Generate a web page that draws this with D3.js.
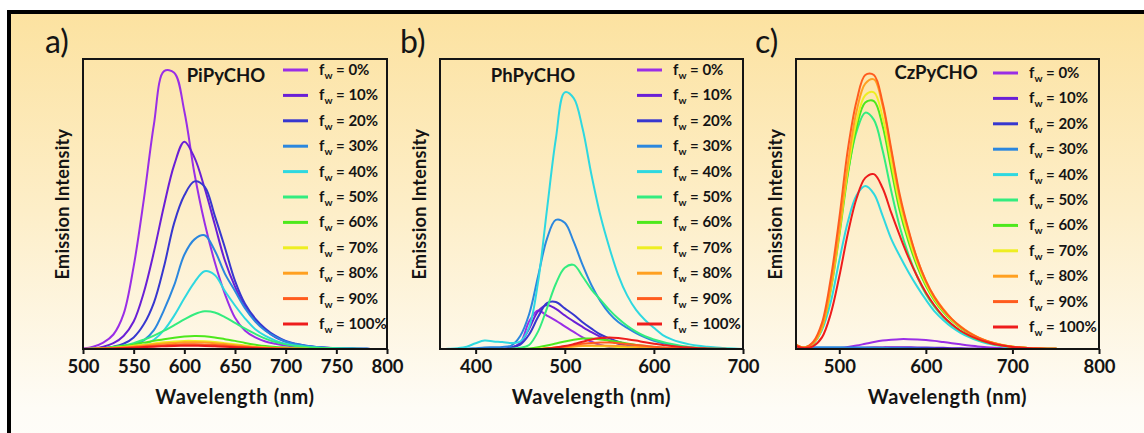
<!DOCTYPE html>
<html>
<head>
<meta charset="utf-8">
<script src="https://cdn.jsdelivr.net/npm/d3@7"></script>
<style>
  html, body { margin: 0; padding: 0; background: #ffffff; }
  svg { display: block; font-family: Lato, "Open Sans", "Noto Sans", sans-serif; }
</style>
</head>
<body>
<svg id="chart" width="1144" height="433"></svg>
<script>
// Water fractions (f_w) shown in every legend, and the colour used for each
const fwLevels = ["0%", "10%", "20%", "30%", "40%", "50%", "60%", "70%", "80%", "90%", "100%"];
const fwColors = ["#9a2ee6", "#6a1fd6", "#3737cf", "#2b87de", "#2ed8e0", "#33ec7f",
                  "#4de81c", "#eeee22", "#ffa020", "#ff5c1e", "#ee1c1c"];

// Compound names
const compounds = ["PiPyCHO", "PhPyCHO", "CzPyCHO"];

// Wavelength sampling (nm) for each spectrum set
const waveA = [500,510,520,530,540,550,560,570,580,590,600,610,620,630,640,650,660,670,680,690,700,710,720,730,740,750,760,770,780,790,800];
const waveB = [360,370,380,390,400,410,420,430,440,450,460,470,480,490,500,510,520,530,540,550,560,570,580,590,600,610,620,630,640,650,660,670,680,690,700];
const waveC = [450,460,470,480,490,500,510,520,530,540,550,560,570,580,590,600,610,620,630,640,650,660,670,680,690,700,710,720,730,740,750,760,770,780,790,800];

// Axis tick values (nm)
const ticksA = [500, 550, 600, 650, 700, 750, 800];
const ticksB = [400, 500, 600, 700];
const ticksC = [500, 600, 700, 800];

// Emission intensity (a.u.), one row per water fraction, sampled on waveA
const pipychoIntensity = [
  [0.2,0.8,2.2,5.0,12.0,28.5,51.5,77.5,95.8,95.3,82,60.5,43.5,30,19,10.8,6.3,4.0,2.6,1.8,1.2,0.8,0.5,0.35,0.25,0.15,0.1,0.05,0,0,0],
  [0,0.2,0.8,2.0,4.5,9.5,19.5,33.5,49.5,63.5,71.5,66,55.5,43,30.5,21.5,14.5,9.8,6.5,4.0,2.5,1.5,1.0,0.6,0.4,0.3,0.2,0.1,0.05,0,0],
  [0,0.1,0.3,0.8,1.8,4.0,8.5,16,28.5,43.5,53,57.8,56,46,35,23.5,15.5,10.5,7,4.5,2.8,1.8,1.1,0.7,0.45,0.3,0.2,0.1,0.05,0,0],
  [0,0,0.1,0.3,0.7,1.5,3.0,6.5,13.5,22,32.5,37.8,39.2,34,26,20,14,9.5,6.3,4.2,2.6,1.7,1.1,0.7,0.45,0.3,0.2,0.1,0.05,0,0],
  [0,0,0.1,0.2,0.4,0.8,1.5,3.2,6.5,11.5,17.5,23,26.8,25.5,20,15,10.5,6.8,4.5,2.9,1.8,1.2,0.8,0.5,0.35,0.25,0.15,0.1,0.05,0,0],
  [0,0.1,0.3,0.7,1.2,2.0,3.2,4.6,6.3,8.2,10.2,12.0,13.0,12.6,11,9,7,5.2,3.6,2.4,1.6,1.0,0.7,0.45,0.3,0.2,0.1,0.05,0,0,0],
  [0,0.1,0.3,0.6,1.0,1.5,2.2,2.8,3.4,3.9,4.3,4.5,4.4,4.0,3.4,2.8,2.1,1.5,1.0,0.7,0.5,0.3,0.2,0.1,0.05,0,0,0,0,0,0],
  [0,0.1,0.2,0.4,0.7,1.1,1.5,1.9,2.3,2.6,2.8,2.8,2.7,2.4,2.0,1.6,1.2,0.8,0.5,0.35,0.2,0.1,0.05,0,0,0,0,0,0,0,0],
  [0,0.1,0.2,0.35,0.6,0.9,1.2,1.6,1.9,2.1,2.3,2.3,2.2,2.0,1.7,1.3,1.0,0.7,0.45,0.3,0.2,0.1,0.05,0,0,0,0,0,0,0,0],
  [0,0,0.1,0.2,0.4,0.6,0.85,1.1,1.3,1.5,1.6,1.6,1.5,1.4,1.2,0.9,0.7,0.5,0.3,0.2,0.1,0.05,0,0,0,0,0,0,0,0,0],
  [0,0,0.1,0.15,0.3,0.45,0.65,0.8,0.95,1.05,1.1,1.1,1.05,0.95,0.8,0.6,0.45,0.3,0.2,0.1,0.05,0,0,0,0,0,0,0,0,0,0]
];

// Emission intensity (a.u.), sampled on waveB
const phpychoIntensity = [
  [0,0,0,0,0,0,0,0,0.5,2.0,9.5,13.3,11.5,9.8,7.8,5.9,4.0,2.5,1.4,0.7,0.3,0.1,0,0,0,0,0,0,0,0,0,0,0,0,0],
  [0,0,0,0,0,0,0,0,0.5,2,7,13,15.2,13.8,11.6,9.5,7.6,5.8,4.2,2.8,1.8,1.1,0.6,0.3,0.15,0.05,0,0,0,0,0,0,0,0,0],
  [0,0,0,0,0,0,0,0,0.5,1.5,5,11,15.8,16.2,14,11.8,9.2,7,5.0,3.7,2.5,1.6,0.9,0.5,0.3,0.15,0.05,0,0,0,0,0,0,0,0],
  [0,0,0,0.1,0.3,0.5,0.6,0.7,1.2,4.5,12,25,38,44.5,43.5,37,29,22,16.5,12.3,9.3,7.3,5.5,4.0,2.8,2.0,1.3,0.8,0.5,0.3,0.2,0.1,0,0,0],
  [0,0.1,0.3,0.8,2.0,2.9,2.6,2.4,2.1,2.6,7.5,23,48,72.5,88.5,86.5,76,60,46,35,25.5,18.5,13.5,10,7.3,4.8,3.3,2.3,1.6,1.1,0.8,0.5,0.3,0.15,0],
  [0,0,0,0,0,0,0,0,0.1,0.4,1.4,6,14,22.5,28,29,25,20.5,17,13.5,10.5,8,6.0,4.4,3.3,2.4,1.7,1.1,0.7,0.4,0.25,0.15,0.05,0,0],
  [0,0,0,0,0,0,0,0,0,0,0.2,0.6,1.2,1.9,2.6,3.2,3.6,3.6,3.3,2.9,2.4,1.9,1.4,1.0,0.7,0.45,0.25,0.1,0.05,0,0,0,0,0,0],
  [0,0,0,0,0,0,0,0,0,0,0,0.1,0.3,0.5,0.7,0.9,1.0,1.0,0.95,0.85,0.7,0.55,0.4,0.3,0.2,0.1,0.05,0,0,0,0,0,0,0,0],
  [0,0,0,0,0,0,0,0,0,0,0,0,0.1,0.3,0.6,0.9,1.1,1.2,1.2,1.15,1.05,0.9,0.75,0.6,0.45,0.3,0.2,0.1,0.05,0,0,0,0,0,0],
  [0,0,0,0,0,0,0,0,0,0,0,0,0.2,0.5,0.9,1.4,1.8,2.1,2.2,2.2,2.0,1.7,1.4,1.1,0.8,0.55,0.35,0.2,0.1,0.05,0,0,0,0,0],
  [0,0,0,0,0,0,0,0,0,0,0,0,0.2,0.5,1.0,1.7,2.5,3.3,3.8,4.0,3.8,3.4,2.9,2.3,1.8,1.4,1.0,0.7,0.5,0.3,0.2,0.1,0.05,0,0]
];

// Emission intensity (a.u.), sampled on waveC
const czpychoIntensity = [
  [0,0,0,0,0.1,0.3,0.7,1.2,1.8,2.4,2.9,3.2,3.4,3.4,3.3,3.1,2.8,2.4,2.0,1.6,1.2,0.9,0.6,0.4,0.25,0.15,0.1,0.05,0,0,0,0,0,0,0,0],
  [0,0,0,0,0,0.1,0.2,0.3,0.4,0.5,0.55,0.6,0.6,0.6,0.55,0.5,0.45,0.4,0.3,0.25,0.2,0.15,0.1,0.05,0,0,0,0,0,0,0,0,0,0,0,0],
  [0.2,0.2,0.2,0.25,0.3,0.35,0.4,0.4,0.4,0.4,0.4,0.35,0.35,0.3,0.3,0.25,0.2,0.15,0.1,0.05,0,0,0,0,0,0,0,0,0,0,0,0,0,0,0,0],
  [0.8,0.6,0.6,0.6,0.6,0.6,0.55,0.5,0.45,0.4,0.35,0.3,0.25,0.2,0.15,0.1,0.05,0,0,0,0,0,0,0,0,0,0,0,0,0,0,0,0,0,0,0],
  [0.8,0.3,1.8,6.5,16,30.5,44,53,56.2,53.5,46,38,32,26.5,21.5,17,13,10,7.5,5.6,4.1,2.9,2.0,1.4,0.85,0.55,0.35,0.2,0.1,0.05,0,0,0,0,0,0],
  [1.3,0.5,2.2,8,21.5,41,61,75,81.5,79,68.5,54.5,42,32.5,25,19,14.5,11,8.3,6.2,4.5,3.2,2.3,1.5,1.0,0.6,0.4,0.25,0.15,0.1,0.05,0,0,0,0,0],
  [1.3,0.5,2.0,7.2,20,39,60.5,76.5,85,85.5,77,62,47.5,37,28.5,21.8,16.7,12.8,9.7,7.3,5.3,3.8,2.7,1.8,1.2,0.8,0.5,0.3,0.2,0.1,0.05,0,0,0,0,0],
  [1.3,0.5,2.0,7.3,20.5,40,62,78.5,87.5,88.5,80,64.5,49.5,38.5,29.5,22.5,17.2,13.2,10,7.5,5.5,3.9,2.8,1.9,1.2,0.8,0.5,0.3,0.2,0.1,0.05,0,0,0,0,0],
  [1.4,0.5,2.0,7.5,21,41,64,82,91.5,93,84,68,52,40.5,31,23.5,18,13.8,10.4,7.8,5.7,4.1,2.9,2.0,1.3,0.8,0.5,0.3,0.2,0.1,0.05,0,0,0,0,0],
  [1.4,0.5,2.5,9,24,45,69,85.5,94.5,94.5,85,69,53,41,31,23.5,17.8,13.6,10.3,7.7,5.6,4.0,2.8,1.9,1.2,0.8,0.5,0.3,0.2,0.1,0.05,0,0,0,0,0],
  [1.0,0.3,1.0,4,12,25,40,52,59,60.3,55.5,47,39,31.5,25,19.5,15,11.3,8.5,6.3,4.7,3.4,2.4,1.6,1.1,0.7,0.45,0.25,0.15,0.1,0.05,0,0,0,0,0]
];

// ---------------------------------------------------------------------------
// Layout of the three panels
const plotTop = 59, plotBottom = 349;
const panels = [
  { letter: "a)", name: compounds[0], wave: waveA, data: pipychoIntensity, domain: [500, 800], ticks: ticksA,
    left: 83, right: 387, titleDX: 143, titleY: 82, legendDX: 200, legendY: 70, letterDX: -38 },
  { letter: "b)", name: compounds[1], wave: waveB, data: phpychoIntensity, domain: [360, 700], ticks: ticksB,
    left: 440, right: 743, titleDX: 93, titleY: 82, legendDX: 197, legendY: 70, letterDX: -40 },
  { letter: "c)", name: compounds[2], wave: waveC, data: czpychoIntensity, domain: [450, 800], ticks: ticksC,
    left: 796, right: 1099, titleDX: 140, titleY: 79, legendDX: 197, legendY: 73, letterDX: -41 }
];

const svg = d3.select("#chart");
const defs = svg.append("defs");

// Warm vertical background wash inside the black frame
const grad = defs.append("linearGradient")
  .attr("id", "bgWash").attr("x1", 0).attr("y1", 0).attr("x2", 0).attr("y2", 1);
grad.append("stop").attr("offset", "0%").attr("stop-color", "#fce2a0");
grad.append("stop").attr("offset", "45%").attr("stop-color", "#fdeec8");
grad.append("stop").attr("offset", "90%").attr("stop-color", "#fefcf6");
grad.append("stop").attr("offset", "100%").attr("stop-color", "#fefdf9");

svg.append("rect")
  .attr("x", 9).attr("y", 12)
  .attr("width", 1160).attr("height", 440)
  .attr("fill", "url(#bgWash)")
  .attr("stroke", "#000").attr("stroke-width", 4);

const ink = "#141414";

panels.forEach((p, pi) => {
  const x = d3.scaleLinear().domain(p.domain).range([p.left, p.right]);
  const y = d3.scaleLinear().domain([0, 100]).range([plotBottom, plotTop]);
  const g = svg.append("g");

  const clipId = "clip" + pi;
  defs.append("clipPath").attr("id", clipId)
    .append("rect")
    .attr("x", p.left).attr("y", plotTop)
    .attr("width", p.right - p.left).attr("height", plotBottom - plotTop - 1);

  // spectra
  const line = d3.line()
    .x((d, i) => x(p.wave[i]))
    .y(d => y(d))
    .curve(d3.curveCatmullRom.alpha(0.5));

  g.append("g").attr("clip-path", `url(#${clipId})`)
    .selectAll("path")
    .data(p.data)
    .join("path")
    .attr("d", d => line(d))
    .attr("fill", "none")
    .attr("stroke", (d, i) => fwColors[i])
    .attr("stroke-width", 2)
    .attr("stroke-linejoin", "round");

  // bottom axis
  const axis = d3.axisBottom(x)
    .tickValues(p.ticks)
    .tickFormat(d3.format("d"))
    .tickSize(5)
    .tickSizeOuter(0)
    .tickPadding(6);
  const ax = g.append("g")
    .attr("transform", `translate(0,${plotBottom})`)
    .call(axis);
  ax.select(".domain").remove();
  ax.selectAll(".tick line").attr("stroke", ink).attr("stroke-width", 2);
  ax.selectAll(".tick text")
    .attr("fill", ink)
    .style("font-size", "18.5px")
    .style("font-weight", "700")
    .style("font-family", "Lato, 'Open Sans', sans-serif");

  // plot frame
  g.append("rect")
    .attr("x", p.left).attr("y", plotTop)
    .attr("width", p.right - p.left).attr("height", plotBottom - plotTop)
    .attr("fill", "none").attr("stroke", ink).attr("stroke-width", 2);

  // compound name
  g.append("text")
    .attr("x", p.left + p.titleDX).attr("y", p.titleY)
    .attr("text-anchor", "middle")
    .attr("fill", ink)
    .style("font-size", "18.5px").style("font-weight", "700")
    .text(p.name);

  // axis titles
  g.append("text")
    .attr("x", (p.left + p.right) / 2).attr("y", 404)
    .attr("text-anchor", "middle")
    .attr("fill", ink)
    .style("font-size", "20px").style("font-weight", "700")
    .style("letter-spacing", "0.6px")
    .text("Wavelength (nm)");

  g.append("text")
    .attr("transform", `translate(${p.left - 21},${(plotTop + plotBottom) / 2}) rotate(-90)`)
    .attr("text-anchor", "middle")
    .attr("dominant-baseline", "central")
    .attr("fill", ink)
    .style("font-size", "18px").style("font-weight", "700")
    .style("letter-spacing", "0.3px")
    .text("Emission Intensity");

  // panel letter
  g.append("text")
    .attr("x", p.left + p.letterDX).attr("y", 53)
    .attr("fill", ink)
    .style("font-size", "32px").style("font-weight", "400")
    .text(p.letter);

  // legend
  const leg = g.append("g");
  fwLevels.forEach((lv, i) => {
    const ry = p.legendY + i * 25.4;
    const lx = p.left + p.legendDX;
    leg.append("line")
      .attr("x1", lx).attr("x2", lx + 25)
      .attr("y1", ry).attr("y2", ry)
      .attr("stroke", fwColors[i]).attr("stroke-width", 3);
    const t = leg.append("text")
      .attr("x", lx + 36).attr("y", ry + 5)
      .attr("fill", ink)
      .style("font-size", "15px").style("font-weight", "700");
    t.append("tspan").text("f");
    t.append("tspan").attr("dy", 4).style("font-size", "10px").text("w");
    t.append("tspan").attr("dy", -4).text(" = " + lv);
  });
});
</script>
</body>
</html>
